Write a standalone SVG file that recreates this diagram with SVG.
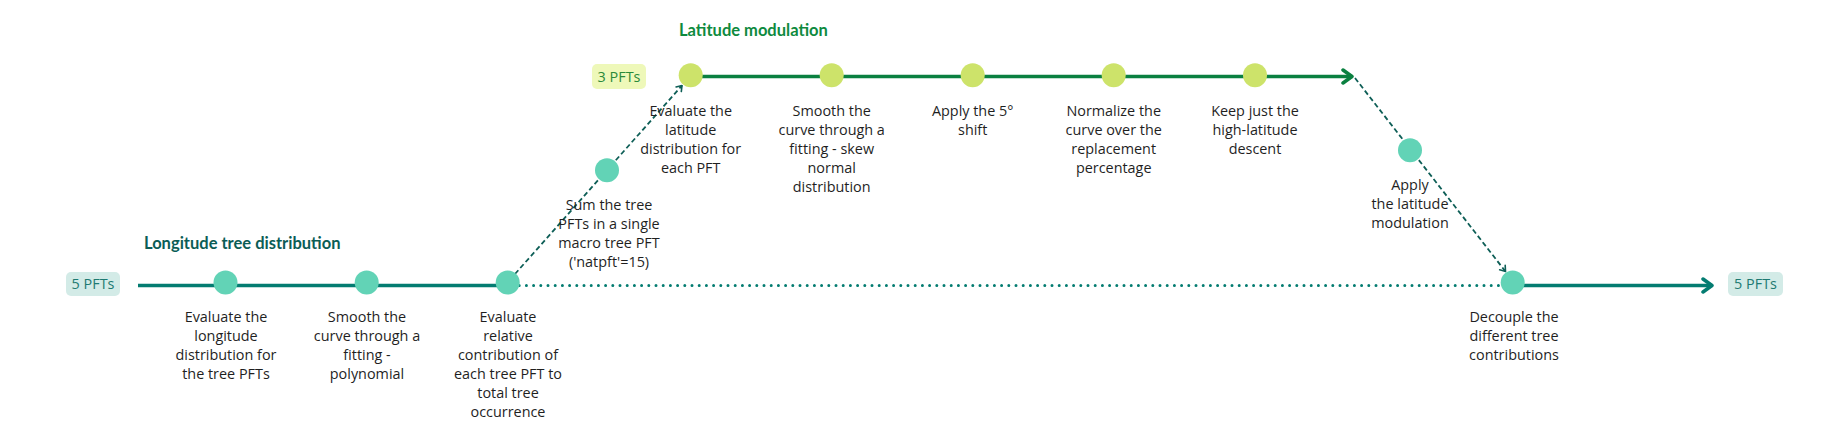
<svg xmlns="http://www.w3.org/2000/svg" width="1834" height="432" viewBox="0 0 1834 432">
<style>
.lbl{font-family:"Open Sans","Noto Sans",sans-serif;font-size:14.4px;fill:#1f1f1f;text-anchor:middle}
.title{font-family:Lato,"Open Sans",sans-serif;font-weight:bold;font-size:16.5px}
.tag{font-family:"Open Sans","Noto Sans",sans-serif;font-size:14.4px;text-anchor:middle}
.lc{fill:#62d3b6}
.uc{fill:#cde36a}
.dash{fill:none;stroke:#0d5e56;stroke-width:1.8;stroke-dasharray:5 3}
</style>
<defs>
<marker id="chevT" viewBox="-12 -9 14 18" markerWidth="14" markerHeight="18" refX="0" refY="0" orient="auto" markerUnits="userSpaceOnUse">
<path d="M-9,-6.5 L0,0 L-9,6.5" fill="none" stroke="#047c71" stroke-width="3.5" stroke-linecap="round" stroke-linejoin="round"/>
</marker>
<marker id="chevG" viewBox="-12 -9 14 18" markerWidth="14" markerHeight="18" refX="0" refY="0" orient="auto" markerUnits="userSpaceOnUse">
<path d="M-9,-6.5 L0,0 L-9,6.5" fill="none" stroke="#0a8040" stroke-width="3.5" stroke-linecap="round" stroke-linejoin="round"/>
</marker>
<marker id="chevS" viewBox="-7 -5 8 10" markerWidth="8" markerHeight="10" refX="0" refY="0" orient="auto" markerUnits="userSpaceOnUse">
<path d="M-5,-3.5 L0,0 L-5,3.5" fill="none" stroke="#0d5e56" stroke-width="1.6" stroke-linecap="round"/>
</marker>
</defs>
<rect width="1834" height="432" fill="#ffffff"/>

<text class="title" x="144" y="249" fill="#0b5d56">Longitude tree distribution</text>
<text class="title" x="679" y="36" fill="#0e8a3e">Latitude modulation</text>

<g id="connectors">
<line x1="138" y1="285.5" x2="507" y2="285.5" stroke="#047c71" stroke-width="3.5"/>
<line x1="512" y1="285.5" x2="1508" y2="285.5" stroke="#047c71" stroke-width="3" stroke-linecap="round" stroke-dasharray="0 7.2"/>
<line x1="1512" y1="285.5" x2="1712" y2="285.5" stroke="#047c71" stroke-width="3.5" marker-end="url(#chevT)"/>
<line x1="690" y1="76.5" x2="1352" y2="76.5" stroke="#0a8040" stroke-width="3.5" marker-end="url(#chevG)"/>
<line class="dash" x1="515" y1="274" x2="682" y2="85.5" marker-end="url(#chevS)"/>
<line class="dash" x1="1355" y1="78" x2="1505.5" y2="271.5" marker-end="url(#chevS)"/>
</g>

<g id="tag-5pfts-in">
<rect x="66" y="272" width="54" height="24" rx="5" fill="#d3ebe7"/>
<text class="tag" x="93" y="289" fill="#1d7a72">5 PFTs</text>
</g>
<g id="tag-3pfts">
<rect x="592" y="64" width="54" height="25" rx="5" fill="#eef8b9"/>
<text class="tag" x="619" y="81.5" fill="#2b8a3a">3 PFTs</text>
</g>
<g id="tag-5pfts-out">
<rect x="1728" y="272" width="55" height="24" rx="5" fill="#d3ebe7"/>
<text class="tag" x="1755.5" y="289" fill="#1d7a72">5 PFTs</text>
</g>

<g id="n-lon-eval">
<circle class="lc" cx="225.5" cy="282.5" r="12"/>
<text class="lbl" x="226" y="322"><tspan x="226">Evaluate the</tspan><tspan x="226" dy="19">longitude</tspan><tspan x="226" dy="19">distribution for</tspan><tspan x="226" dy="19">the tree PFTs</tspan></text>
</g>
<g id="n-lon-smooth">
<circle class="lc" cx="366.7" cy="282.5" r="12"/>
<text class="lbl" x="367" y="322"><tspan x="367">Smooth the</tspan><tspan x="367" dy="19">curve through a</tspan><tspan x="367" dy="19">fitting -</tspan><tspan x="367" dy="19">polynomial</tspan></text>
</g>
<g id="n-relative">
<circle class="lc" cx="507.7" cy="282.5" r="12"/>
<text class="lbl" x="508" y="322"><tspan x="508">Evaluate</tspan><tspan x="508" dy="19">relative</tspan><tspan x="508" dy="19">contribution of</tspan><tspan x="508" dy="19">each tree PFT to</tspan><tspan x="508" dy="19">total tree</tspan><tspan x="508" dy="19">occurrence</tspan></text>
</g>
<g id="n-sum">
<circle class="lc" cx="607" cy="170.3" r="12"/>
<text class="lbl" x="609" y="210"><tspan x="609">Sum the tree</tspan><tspan x="609" dy="19">PFTs in a single</tspan><tspan x="609" dy="19">macro tree PFT</tspan><tspan x="609" dy="19">('natpft'=15)</tspan></text>
</g>
<g id="n-lat-eval">
<circle class="uc" cx="690.7" cy="75.2" r="12"/>
<text class="lbl" x="690.7" y="115.5"><tspan x="690.7">Evaluate the</tspan><tspan x="690.7" dy="19">latitude</tspan><tspan x="690.7" dy="19">distribution for</tspan><tspan x="690.7" dy="19">each PFT</tspan></text>
</g>
<g id="n-lat-smooth">
<circle class="uc" cx="831.7" cy="75.2" r="12"/>
<text class="lbl" x="831.7" y="115.5"><tspan x="831.7">Smooth the</tspan><tspan x="831.7" dy="19">curve through a</tspan><tspan x="831.7" dy="19">fitting - skew</tspan><tspan x="831.7" dy="19">normal</tspan><tspan x="831.7" dy="19">distribution</tspan></text>
</g>
<g id="n-shift">
<circle class="uc" cx="972.7" cy="75.2" r="12"/>
<text class="lbl" x="972.7" y="115.5"><tspan x="972.7">Apply the 5°</tspan><tspan x="972.7" dy="19">shift</tspan></text>
</g>
<g id="n-normalize">
<circle class="uc" cx="1113.7" cy="75.2" r="12"/>
<text class="lbl" x="1113.7" y="115.5"><tspan x="1113.7">Normalize the</tspan><tspan x="1113.7" dy="19">curve over the</tspan><tspan x="1113.7" dy="19">replacement</tspan><tspan x="1113.7" dy="19">percentage</tspan></text>
</g>
<g id="n-keep">
<circle class="uc" cx="1255" cy="75.2" r="12"/>
<text class="lbl" x="1255" y="115.5"><tspan x="1255">Keep just the</tspan><tspan x="1255" dy="19">high-latitude</tspan><tspan x="1255" dy="19">descent</tspan></text>
</g>
<g id="n-apply">
<circle class="lc" cx="1410" cy="150.3" r="12"/>
<text class="lbl" x="1410" y="190"><tspan x="1410">Apply</tspan><tspan x="1410" dy="19">the latitude</tspan><tspan x="1410" dy="19">modulation</tspan></text>
</g>
<g id="n-decouple">
<circle class="lc" cx="1512.7" cy="282.5" r="12"/>
<text class="lbl" x="1514" y="322"><tspan x="1514">Decouple the</tspan><tspan x="1514" dy="19">different tree</tspan><tspan x="1514" dy="19">contributions</tspan></text>
</g>
</svg>
